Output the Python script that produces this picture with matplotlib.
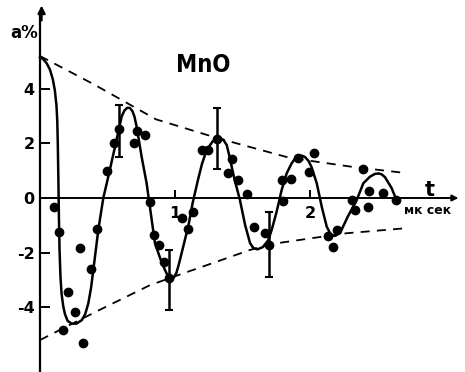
import matplotlib
matplotlib.use("Agg")
import matplotlib.pyplot as plt

plt.rcParams['axes.unicode_minus'] = False
plt.rcParams['font.family'] = ['DejaVu Sans']

# solid hand-drawn curve
curve_t = [0.0, 0.025, 0.05, 0.074, 0.095, 0.11, 0.122, 0.128, 0.132, 0.136, 0.14, 0.145,
           0.152, 0.16, 0.172, 0.185, 0.205, 0.235, 0.27, 0.31, 0.335, 0.358,
           0.378, 0.395, 0.432, 0.469, 0.506, 0.556, 0.605, 0.625, 0.645, 0.665, 0.685,
           0.70, 0.716, 0.753, 0.79,
           0.807, 0.852, 0.89, 0.926, 0.95, 0.97, 0.99, 1.01, 1.03, 1.06, 1.1, 1.13, 1.17,
           1.2, 1.235, 1.28, 1.31, 1.333, 1.36, 1.383, 1.40, 1.44, 1.48, 1.52, 1.556,
           1.58, 1.61, 1.65, 1.69, 1.716,
           1.753, 1.79, 1.827, 1.864, 1.89, 1.913, 1.94, 1.963, 1.99, 2.01, 2.05, 2.087,
           2.124, 2.15, 2.17, 2.19, 2.21, 2.235, 2.28, 2.346, 2.395, 2.444, 2.48, 2.506,
           2.53, 2.556, 2.605, 2.64]
curve_a = [5.16, 5.08, 4.93, 4.7, 4.35, 3.95, 3.4, 2.85, 2.0, 0.8, -0.6, -1.9,
           -2.9, -3.5, -3.95, -4.25, -4.5, -4.6, -4.6, -4.47, -4.25, -3.86,
           -3.3, -2.64, -1.17, 0.0, 0.78, 1.88, 2.98, 3.2, 3.3, 3.3, 3.18,
           2.98, 2.61, 1.51, 0.54,
           -0.07, -1.66, -2.2, -2.64, -2.88, -2.97, -2.92, -2.75, -2.4, -1.8, -1.0, -0.2,
           0.66, 1.25, 1.76, 2.08, 2.18, 2.2, 2.12, 1.94, 1.6, 0.7, -0.05, -1.0, -1.65,
           -1.83, -1.88, -1.8, -1.55, -1.17,
           -0.5, 0.29, 0.9, 1.27, 1.45, 1.53, 1.55, 1.5, 1.35, 1.15, 0.54, -0.32,
           -1.05, -1.3, -1.38, -1.38, -1.3, -1.15, -0.68, -0.07, 0.54, 0.78, 0.88, 0.9,
           0.87, 0.76, 0.36, -0.07]

# dashed envelopes
upper_t = [0.0, 0.4, 0.86, 1.31, 1.85, 2.3, 2.7]
upper_a = [5.2, 4.16, 2.88, 2.2, 1.47, 1.15, 0.92]
lower_t = [0.0, 0.44, 0.815, 1.06, 1.31, 1.556, 1.75, 2.0, 2.27, 2.7]
lower_a = [-5.2, -4.1, -3.19, -2.76, -2.33, -1.9, -1.66, -1.48, -1.29, -1.11]

# measured points
dot_t = [0.104, 0.14, 0.173, 0.205, 0.26, 0.30, 0.316, 0.375, 0.425, 0.50, 0.548, 0.585,
         0.70, 0.716, 0.78, 0.815, 0.844, 0.884, 0.92, 0.956, 1.05, 1.094, 1.13, 1.197,
         1.247, 1.31, 1.39, 1.42, 1.47, 1.53, 1.585, 1.667, 1.70, 1.795, 1.80, 1.86, 1.91,
         1.99, 2.03, 2.135, 2.17, 2.20, 2.31, 2.33, 2.39, 2.43, 2.44, 2.54, 2.64]
dot_a = [-0.32, -1.23, -4.83, -3.45, -4.19, -1.84, -5.3, -2.6, -1.15, 1.0, 2.03, 2.53,
         2.0, 2.47, 2.3, -0.16, -1.36, -1.72, -2.33, -2.94, -0.74, -1.14, -0.5, 1.76,
         1.76, 2.15, 0.93, 1.42, 0.66, 0.15, -1.07, -1.27, -1.72, 0.66, -0.11, 0.68, 1.45,
         0.96, 1.66, -1.38, -1.81, -1.17, -0.07, -0.44, 1.06, -0.32, 0.27, 0.17, -0.07]

# error bars
eb_t = [0.585, 0.956, 1.31, 1.70]
eb_a = [2.46, -2.99, 2.18, -1.69]
eb_err = [0.95, 1.1, 1.1, 1.19]

yticks = [-4, -2, 0, 2, 4]
ytick_labels = ['-4', '-2', '0', '2', '4']
xticks = [1, 2]
xtick_labels = ['1', '2']

fig = plt.figure(figsize=(4.65, 3.72), dpi=100)
ax = fig.add_axes([0, 0, 1, 1])
ax.set_xlim(-0.296, 3.148)
ax.set_ylim(-6.37, 7.25)
ax.patch.set_alpha(0)

for s in ['top', 'right']:
    ax.spines[s].set_visible(False)
ax.spines['left'].set_position(('data', 0))
ax.spines['bottom'].set_position(('data', 0))
ax.spines['left'].set_bounds(-6.37, 6.8)
ax.spines['bottom'].set_bounds(0, 3.0)
ax.spines['left'].set_linewidth(1.6)
ax.spines['bottom'].set_linewidth(1.4)

ax.set_yticks(yticks)
ax.set_yticklabels(ytick_labels)
ax.set_xticks(xticks)
ax.set_xticklabels(xtick_labels)
ax.tick_params(axis='y', direction='in', length=7, width=1.4, pad=4,
               labelsize=11.5)
ax.tick_params(axis='x', direction='in', length=6, width=1.4, pad=6,
               labelsize=11.5)
for lab in ax.get_xticklabels() + ax.get_yticklabels():
    lab.set_fontweight('bold')

# axis arrows
ax.annotate('', xy=(0.012, 7.15), xytext=(0.012, 6.4),
            arrowprops=dict(arrowstyle='-|>', color='k', lw=1.6, mutation_scale=11))
ax.annotate('', xy=(3.12, 0), xytext=(2.9, 0),
            arrowprops=dict(arrowstyle='-|>', color='k', lw=1.4, mutation_scale=9))

ax.plot(upper_t, upper_a, color='k', lw=1.3, dashes=(5, 4))
ax.plot(lower_t, lower_a, color='k', lw=1.3, dashes=(5, 4))
ax.plot(curve_t, curve_a, color='k', lw=1.8, solid_joinstyle='round')
ax.errorbar(eb_t, eb_a, yerr=eb_err, fmt='none', ecolor='k', elinewidth=1.8,
            capsize=3, capthick=1.5)
ax.plot(dot_t, dot_a, 'o', color='k', ms=6)

ax.text(-0.119, 6.04, 'a%', fontsize=12, fontweight='bold', ha='center', va='center')
ax.text(1.207, 4.86, 'MnO', fontsize=17, fontweight='bold', ha='center', va='center',
        fontstretch='condensed')
ax.text(2.89, 0.3, 't', fontsize=15, fontweight='bold', ha='center', va='center')
ax.text(2.87, -0.45, 'мк сек', fontsize=9, fontweight='bold', ha='center', va='center')

fig.savefig('out.png', dpi=100)
